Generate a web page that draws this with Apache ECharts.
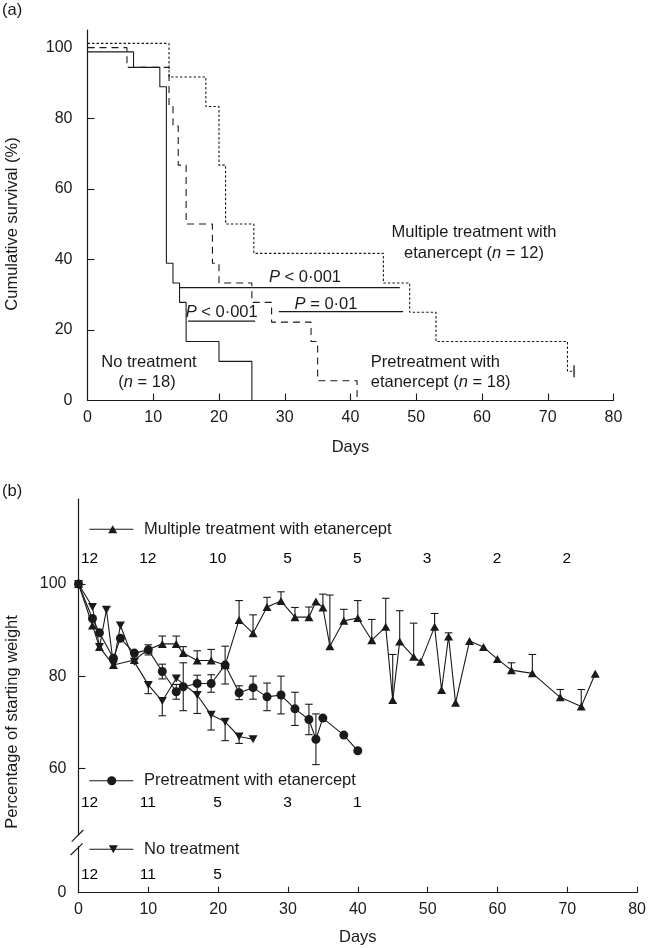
<!DOCTYPE html>
<html>
<head>
<meta charset="utf-8">
<script src="https://cdn.jsdelivr.net/npm/echarts@6/dist/echarts.min.js"></script>
<style>
  html, body { margin: 0; padding: 0; background: #fff; }
  #chart { width: 649px; height: 948px; }
</style>
</head>
<body>
<div id="chart"></div>
<script>
// ---- panel (a): Kaplan-Meier survival, [day, % surviving]
const survNone = [[0, 98.8], [7, 94.4], [11, 88.9], [12, 38.9], [13, 33.3], [14, 27.8], [15, 16.7], [20, 11.1], [25, 0]];
const survPre = [[0, 100], [6, 94.4], [12.4, 83.3], [13, 77.8], [13.8, 66.7], [15, 50], [19, 38.9], [20, 33.3], [25, 27.8], [28, 22.2], [34, 16.7], [35, 5.6], [41, 0]];
const survMulti = [[0, 101.2], [12.4, 91.7], [18, 83.3], [20, 66.7], [21, 50], [25.3, 41.7], [45, 33.3], [49, 25], [53, 16.7], [73, 8.3], [74, 8.3]];
const censorMulti = [[74, 8.3]];
// P-value bars: [day, level] start and end
const pUpper = [[14, 32], [47.5, 32]];
const pMid = [[29.1, 25.2], [48, 25.2]];
const pLower = [[15.3, 22.5], [25.5, 22.5]];

// ---- panel (b): weight, [day, % of starting weight, error]
const wMulti = [[0, 100, 0], [2, 91, 0], [3, 86.3, 0], [5, 82.4, 0], [8, 83.5, 0], [10, 85.8, 0], [12, 87, 1.7], [14, 87, 1.7],
  [15, 85, 1.4], [17, 83.4, 2.1], [19, 83.4, 2.4], [21, 82.4, 0], [23, 92.2, 4.2], [25, 89.3, 4], [27, 95, 2.1], [29, 96.3, 2],
  [31, 92.8, 2.1], [33, 92.8, 2.2], [34, 96.2, 0], [35, 94.9, 2.9], [36, 86.5, 11.1], [38, 92, 2.5], [40, 92.6, 3.8],
  [42, 87.8, 4.5], [44, 90.7, 6.2], [45, 74.8, 9.9], [46, 87.5, 6.7], [48, 84.2, 7.3], [49, 83.1, 0], [51, 90.7, 2.9],
  [52, 77, 0], [53, 88.6, 0.8], [54, 74.2, 0], [56, 87.6, 0], [58, 86.3, 0], [60, 83.7, 0], [62, 81.3, 1.6], [65, 80.6, 4.1],
  [69, 75.4, 1.7], [72, 73.4, 3.7], [74, 80.5, 0]];
const wPre = [[0, 100, 0], [2, 92.5, 0], [3, 89.4, 0], [5, 83.9, 0], [6, 88.2, 0], [8, 85, 0], [10, 85.7, 1.1], [12, 81, 1.6],
  [14, 76.6, 1.6], [15, 77.7, 5.2], [17, 78.4, 1.8], [19, 78.4, 1.9], [21, 82.4, 4.1], [23, 76.4, 1.5], [25, 77.5, 2.5],
  [27, 75.5, 3], [29, 75.9, 4.1], [31, 72.9, 3.6], [33, 70.6, 3.3], [34, 66.3, 5.5], [35, 70.9, 0], [38, 67.2, 0], [40, 63.8, 0]];
const wNone = [[0, 100, 0], [2, 95, 0], [3, 86.3, 0], [4, 94.4, 0], [5, 82.5, 0], [6, 91, 0], [8, 83.1, 0], [10, 78.1, 1.9],
  [12, 74.6, 3.2], [14, 79.5, 0], [17, 75.9, 4], [19, 71.6, 3.3], [21, 70.1, 4.1], [23, 66.9, 1.5], [25, 66.3, 0]];

// numbers at risk
const riskDays = [0, 10, 20, 30, 40, 50, 60, 70];
const riskMulti = [12, 12, 10, 5, 5, 3, 2, 2];
const riskPre = [12, 11, 5, 3, 1];
const riskNone = [12, 11, 5];

const daysTicks = [0, 10, 20, 30, 40, 50, 60, 70, 80];
const survTicks = [0, 20, 40, 60, 80, 100];
const weightTicks = [60, 80, 100];

const FONT = '"Liberation Sans", Arial, Helvetica, sans-serif';
const INK = '#1a1a1a';
const FS = 16.5;

const chart = echarts.init(document.getElementById('chart'));

function seg(x1, y1, x2, y2) {
  return { type: 'line', shape: { x1, y1, x2, y2 }, style: { stroke: INK, lineWidth: 1.1 } };
}

function errBars(params, api) {
  const x = api.value(0), y = api.value(1), up = api.value(2), dn = api.value(3);
  const c = api.coord([x, y]);
  const kids = [];
  const cap = 3.8;
  if (up > 0) {
    const t = api.coord([x, y + up]);
    kids.push(seg(c[0], c[1], t[0], t[1]), seg(t[0] - cap, t[1], t[0] + cap, t[1]));
  }
  if (dn > 0) {
    const b = api.coord([x, y - dn]);
    kids.push(seg(c[0], c[1], b[0], b[1]), seg(b[0] - cap, b[1], b[0] + cap, b[1]));
  }
  return { type: 'group', children: kids };
}

// numbers at risk drawn as label-only points under each legend row
function riskRow(counts, level) {
  return {
    type: 'scatter', xAxisIndex: 1, yAxisIndex: 1, symbolSize: 1, silent: true,
    itemStyle: { color: 'rgba(0,0,0,0)', opacity: 1 },
    label: { show: true, position: [0, 0], align: 'center', verticalAlign: 'middle', opacity: 1,
      color: '#000', textBorderWidth: 0, fontSize: 15.5, fontFamily: FONT, formatter: p => p.value[2] },
    data: counts.map((n, i) => i === 0
      ? { value: [riskDays[i], level, n], label: { align: 'left', offset: [3, 0] } }
      : [riskDays[i], level, n])
  };
}

function weightLine(rows, symbol, rotate, size) {
  return {
    type: 'line', xAxisIndex: 1, yAxisIndex: 1, symbol, symbolRotate: rotate, symbolSize: size,
    showAllSymbol: true, z: 3,
    lineStyle: { color: INK, width: 1.1 }, itemStyle: { color: INK },
    data: rows.map(r => [r[0], r[1]])
  };
}

function txt(x, y, text, align, extra) {
  return Object.assign({
    type: 'text', x, y, z: 50,
    style: { text, fill: INK, font: FS + 'px ' + FONT, align: align || 'center', verticalAlign: 'middle',
      rich: { i: { fontStyle: 'italic', fontSize: FS, fontFamily: FONT, fill: INK } } }
  }, extra || {});
}

const axisBase = {
  axisLine: { show: true, onZero: false, lineStyle: { color: INK, width: 1.2 } },
  axisTick: { inside: true, length: 7, lineStyle: { color: INK, width: 1.1 } },
  splitLine: { show: false },
  axisLabel: { color: INK, fontSize: 16, fontFamily: FONT },
  nameTextStyle: { color: INK, fontSize: FS, fontFamily: FONT }
};

chart.setOption({
  animation: false,
  backgroundColor: '#fff',
  grid: [
    { left: 87.5, right: 35.5, top: 30, height: 370.5 },
    { left: 78.5, right: 9.7, top: 499.2, height: 393.5 }
  ],
  xAxis: [
    Object.assign({}, axisBase, { gridIndex: 0, type: 'value', min: 0, max: 80, interval: 10,
      axisLabel: Object.assign({}, axisBase.axisLabel, { margin: 9, customValues: daysTicks }),
      axisTick: Object.assign({}, axisBase.axisTick, { customValues: daysTicks.slice(1) }),
      name: 'Days', nameLocation: 'middle', nameGap: 38 }),
    Object.assign({}, axisBase, { gridIndex: 1, type: 'value', min: 0, max: 80, interval: 10,
      axisLabel: Object.assign({}, axisBase.axisLabel, { margin: 9, customValues: daysTicks }),
      axisTick: Object.assign({}, axisBase.axisTick, { length: 6, customValues: daysTicks.slice(1) }),
      name: 'Days', nameLocation: 'middle', nameGap: 36 })
  ],
  yAxis: [
    Object.assign({}, axisBase, { gridIndex: 0, type: 'value', min: 0, max: 105,
      axisLabel: Object.assign({}, axisBase.axisLabel, { margin: 15, customValues: survTicks }),
      axisTick: Object.assign({}, axisBase.axisTick, { customValues: survTicks.slice(1) }) }),
    Object.assign({}, axisBase, { gridIndex: 1, type: 'value', min: 33, max: 118.4,
      axisLabel: Object.assign({}, axisBase.axisLabel, { margin: 12, customValues: [33].concat(weightTicks),
        formatter: v => (v === 33 ? '0' : String(v)) }),
      axisTick: Object.assign({}, axisBase.axisTick, { customValues: weightTicks }) })
  ],
  series: [
    { type: 'line', step: 'end', symbol: 'none', data: survNone, lineStyle: { color: INK, width: 1.1 } },
    { type: 'line', step: 'end', symbol: 'none', data: survPre, lineStyle: { color: INK, width: 1.1, type: [7, 5] } },
    { type: 'line', step: 'end', symbol: 'none', data: survMulti, lineStyle: { color: INK, width: 1.1, type: [2.5, 2] } },
    { type: 'scatter', data: censorMulti, symbol: 'rect', symbolSize: [1.3, 12], itemStyle: { color: INK, opacity: 1 } },
    { type: 'line', symbol: 'none', data: pUpper, lineStyle: { color: INK, width: 1.1 } },
    { type: 'line', symbol: 'none', data: pMid, lineStyle: { color: INK, width: 1.1 } },
    { type: 'line', symbol: 'none', data: pLower, lineStyle: { color: INK, width: 1.1 } },

    { type: 'custom', xAxisIndex: 1, yAxisIndex: 1, renderItem: errBars, z: 2,
      data: wMulti.map(r => [r[0], r[1], r[2], 0]) },
    { type: 'custom', xAxisIndex: 1, yAxisIndex: 1, renderItem: errBars, z: 2,
      data: wPre.map(r => [r[0], r[1], r[2], r[2]]) },
    { type: 'custom', xAxisIndex: 1, yAxisIndex: 1, renderItem: errBars, z: 2,
      data: wNone.map(r => [r[0], r[1], 0, r[2]]) },
    weightLine(wMulti, 'triangle', 0, [9, 8]),
    weightLine(wNone, 'triangle', 180, [9, 8]),
    weightLine(wPre, 'circle', 0, 9),

    riskRow(riskMulti, 105.4),
    riskRow(riskPre, 52.4),
    riskRow(riskNone, 36.9)
  ],
  graphic: [
    txt(2, 10, '(a)', 'left'),
    txt(2, 491, '(b)', 'left'),
    txt(12, 224, 'Cumulative survival (%)', 'center', { rotation: Math.PI / 2 }),
    txt(12, 722, 'Percentage of starting weight', 'center', { rotation: Math.PI / 2 }),

    txt(474, 232, 'Multiple treatment with'),
    txt(474, 253, 'etanercept ({i|n} = 12)'),
    txt(370.7, 362, 'Pretreatment with', 'left'),
    txt(370.7, 382, 'etanercept ({i|n} = 18)', 'left'),
    txt(149, 362, 'No treatment'),
    txt(147, 382, '({i|n} = 18)'),
    txt(305, 277, '{i|P} < 0·001'),
    txt(326, 304, '{i|P} = 0·01'),
    txt(221.7, 312.5, '{i|P} < 0·001'),

    // legend keys of panel (b)
    { type: 'line', z: 50, shape: { x1: 89.3, y1: 529.3, x2: 133.3, y2: 529.3 }, style: { stroke: INK, lineWidth: 1.1 } },
    { type: 'polygon', z: 51, shape: { points: [[108.2, 533.3], [117.2, 533.3], [112.7, 525.3]] }, style: { fill: INK } },
    txt(144, 529.3, 'Multiple treatment with etanercept', 'left'),
    { type: 'line', z: 50, shape: { x1: 89.3, y1: 780.7, x2: 133.3, y2: 780.7 }, style: { stroke: INK, lineWidth: 1.1 } },
    { type: 'circle', z: 51, shape: { cx: 111.7, cy: 780.7, r: 4.5 }, style: { fill: INK } },
    txt(144, 780.7, 'Pretreatment with etanercept', 'left'),
    { type: 'line', z: 50, shape: { x1: 89.3, y1: 849.3, x2: 133.3, y2: 849.3 }, style: { stroke: INK, lineWidth: 1.1 } },
    { type: 'polygon', z: 51, shape: { points: [[108.8, 845.3], [117.8, 845.3], [113.3, 853.3]] }, style: { fill: INK } },
    txt(144, 849.3, 'No treatment', 'left'),

    // axis break marks
    { type: 'rect', z: 60, shape: { x: 75, y: 835.5, width: 7, height: 10.5 }, style: { fill: '#fff' } },
    { type: 'line', z: 61, shape: { x1: 71.7, y1: 841.7, x2: 83.3, y2: 830 }, style: { stroke: INK, lineWidth: 1.1 } },
    { type: 'line', z: 61, shape: { x1: 70.7, y1: 855, x2: 82.7, y2: 843.3 }, style: { stroke: INK, lineWidth: 1.1 } }
  ]
});

window.addEventListener('resize', () => chart.resize());
</script>
</body>
</html>
